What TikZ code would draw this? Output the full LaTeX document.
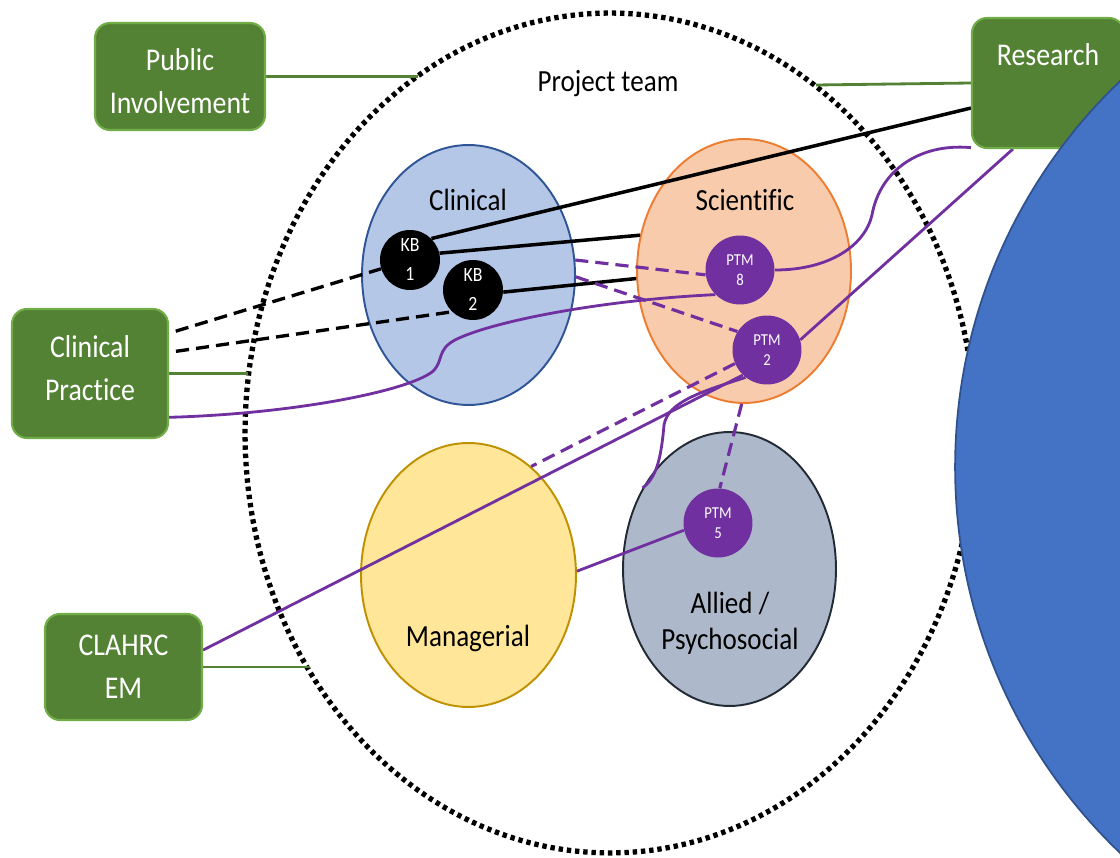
\documentclass[tikz,border=0pt]{standalone}
\usepackage{fontspec}
\setmainfont{Carlito}[FakeStretch=0.88,Ligatures=NoCommon]
\usetikzlibrary{shapes.geometric}
\definecolor{boxgreen}{HTML}{548235}
\definecolor{boxedge}{HTML}{70AD47}
\definecolor{ptmc}{HTML}{7030A0}
\definecolor{clinfill}{HTML}{B4C7E7}
\definecolor{clinedge}{HTML}{2F5597}
\definecolor{scifill}{HTML}{F8CBAD}
\definecolor{sciedge}{HTML}{ED7D31}
\definecolor{mgrfill}{HTML}{FFE699}
\definecolor{mgredge}{HTML}{BF9000}
\definecolor{allfill}{HTML}{ADB9CA}
\definecolor{alledge}{HTML}{222A35}
\definecolor{bigblue}{HTML}{4472C4}
\definecolor{bigedge}{HTML}{2F528F}
\pgfdeclarelayer{back}
\pgfdeclarelayer{lines}
\pgfdeclarelayer{front}
\pgfsetlayers{back,lines,main,front}
\begin{document}
\begin{tikzpicture}[x=0.02cm,y=-0.02cm,
  gbox/.style={rectangle, rounded corners=3mm, fill=boxgreen, draw=boxedge, line width=1.2pt,
    text=white, align=center, font=\fontsize{18}{24.5}\selectfont, inner sep=0pt},
  group/.style={ellipse, line width=1.1pt, inner sep=0pt},
  kbnode/.style={circle, fill=black, text=white, minimum size=1.2cm, inner sep=0pt,
    align=center, font=\fontsize{11.5}{16.5}\selectfont},
  ptmnode/.style={circle, fill=ptmc, text=white, minimum size=1.38cm, inner sep=0pt,
    align=center, font=\fontsize{9.5}{11.5}\selectfont},
  lbl/.style={font=\fontsize{17.5}{20.5}\selectfont, align=center, inner sep=0pt},
  blk/.style={draw=black, line width=2pt},
  blkdash/.style={draw=black, line width=1.9pt, dash pattern=on 7.5pt off 4pt},
  pl/.style={draw=ptmc, line width=1.6pt},
  pldash/.style={draw=ptmc, line width=1.8pt, dash pattern=on 7.5pt off 4pt},
  gl/.style={draw=boxgreen, line width=1.6pt}]
\path[use as bounding box] (0,0) rectangle (1120,858);
\clip (0,0) rectangle (1120,858);

% team and groups
\begin{pgfonlayer}{back}
\node[ellipse, draw=black, line width=3pt, dash pattern=on 2.5pt off 2.2pt,
  minimum width=14.6cm, minimum height=16.8cm, inner sep=0pt] (team) at (610,433) {};
\node[group, fill=clinfill, draw=clinedge, minimum width=4.26cm, minimum height=5.2cm] (clin) at (468.5,275) {};
\node[group, fill=scifill, draw=sciedge, minimum width=4.28cm, minimum height=5.28cm] (sci) at (744,271) {};
\node[group, fill=mgrfill, draw=mgredge, minimum width=4.3cm, minimum height=5.28cm] (mgr) at (468.5,575) {};
\node[group, fill=allfill, draw=alledge, minimum width=4.26cm, minimum height=5.48cm] (allied) at (729.5,569) {};
\end{pgfonlayer}

\node[lbl] (teamlbl) at (608,84) {Project team};
\node[lbl] (clinlbl) at (468,200) {Clinical};
\node[lbl] (scilbl) at (745,200) {Scientific};
\node[lbl] (mgrlbl) at (468,638) {Managerial};
\node[lbl] (alllbl) at (730,623) {Allied /\\Psychosocial};

% small circles
\node[kbnode] (kb1) at (410,260) {KB\\1};
\node[kbnode] (kb2) at (473,290) {KB\\2};
\node[ptmnode] (ptm8) at (740,270) {PTM\\8};
\node[ptmnode] (ptm2) at (767,350) {PTM\\2};
\node[ptmnode] (ptm5) at (718,523) {PTM\\5};

% green boxes
\node[gbox, minimum width=3.4cm, minimum height=2.14cm] (pub) at (180,76.5) {};
\node[text=white, align=center, font=\fontsize{18}{24.5}\selectfont, inner sep=0pt] (publbl) at (180,81) {Public\\Involvement};
\node[gbox, minimum width=3.12cm, minimum height=2.58cm] (cp) at (90,373.5) {};
\node[text=white, align=center, font=\fontsize{18}{24.5}\selectfont, inner sep=0pt] (cplbl) at (90,368) {Clinical\\Practice};
\node[gbox, minimum width=3.14cm, minimum height=2.12cm] (clahrc) at (123.5,667) {CLAHRC\\EM};
\node[gbox, minimum width=3.04cm, minimum height=2.6cm] (research) at (1048,83) {};
\node[text=white, font=\fontsize{18}{24}\selectfont, inner sep=0pt] (reslbl) at (1048,55) {Research};

% free ends on the team boundary
\coordinate (pubend) at (418,76.5);
\coordinate (resend) at (816,85);
\coordinate (cpend) at (248,373.5);
\coordinate (clend) at (310,667);

\begin{pgfonlayer}{lines}
% green
\draw[gl] (pub.east) -- (pubend);
\draw[gl] (research.west) -- (resend);
\draw[gl] (cp.east) -- (cpend);
\draw[gl] (clahrc.east) -- (clend);
% black
\draw[blk] (kb1.45) -- (research.198);
\draw[blk] (kb1.13) -- (sci.161);
\draw[blk] (kb2.-4) -- (sci.184);
\draw[blkdash, shorten <=1.4mm] (cp.27) -- (kb1);
\draw[blkdash, shorten <=1.4mm] (cp.15) -- (kb2.226);
% purple solid
\draw[pl] (cp.-29) .. controls (290,414) and (405,392) .. (432,372)
  .. controls (444,362) and (436,350) .. (455,340)
  .. controls (490,322) and (600,300) .. (ptm8.225);
\draw[pl] (ptm8.east) .. controls (830,270) and (865,245) .. (872,215)
  .. controls (880,170) and (920,143) .. (research.220);
\draw[pl] (ptm2.17) -- (research.242);
\draw[pl] (clahrc.12) -- (ptm2.226);
\draw[pl] (ptm2.232) .. controls (700,392) and (668,402) .. (664,425)
  .. controls (661,460) and (656,478) .. (allied.137);
\draw[pl] (ptm5.192) -- (mgr.2);
% purple dashed
\draw[pldash] (clin.8) -- (ptm8.188);
\draw[pldash] (clin.-1) -- (ptm2.148);
\draw[pldash] (ptm2.203) -- (mgr.60);
\draw[pldash] (sci.269) -- (ptm5.87);
\end{pgfonlayer}

\begin{pgfonlayer}{front}
\node[circle, fill=bigblue, draw=bigedge, line width=1pt, minimum size=21.36cm, inner sep=0pt] (bigcirc) at (1489,467) {};
\end{pgfonlayer}
\end{tikzpicture}
\end{document}
